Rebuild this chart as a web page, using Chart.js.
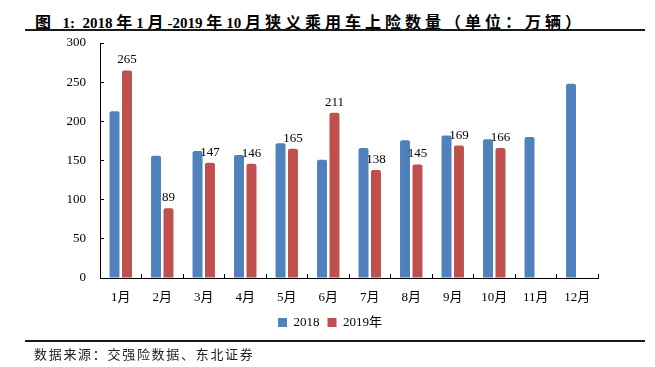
<!DOCTYPE html>
<html>
<head>
<meta charset="utf-8">
<script src="https://cdn.jsdelivr.net/npm/chart.js@4"></script>
<style>
  body { margin: 0; width: 655px; height: 367px; position: relative; background: #fff; overflow: hidden; }
  #title { position: absolute; left: 35px; top: 9px; font: bold 15px "Liberation Serif", "Noto Sans CJK SC"; color: #000; white-space: nowrap; }
  #title .c { font-size: 16px; letter-spacing: 4px; }
  .rule { position: absolute; left: 25px; width: 620px; height: 2px; background: #1a1a1a; }
  #src { position: absolute; left: 34px; top: 344px; font: 13px "Noto Sans CJK SC"; letter-spacing: 1.7px; color: #222; }
  canvas { position: absolute; left: 0; top: 0; }
</style>
</head>
<body>
<div id="title"><span class="c">图</span>&nbsp; 1:&nbsp; 2018 <span class="c">年</span>1 <span class="c">月</span>-2019 <span class="c">年</span>10 <span class="c">月狭义乘用车上险数量（单位：万辆）</span></div>
<div class="rule" style="top:29px"></div>
<canvas id="chart" width="655" height="367"></canvas>
<div class="rule" style="top:340px"></div>
<div id="src">数据来源：交强险数据、东北证券</div>
<script>
const months = ['1月', '2月', '3月', '4月', '5月', '6月', '7月', '8月', '9月', '10月', '11月', '12月'];
const seriesNames = ['2018', '2019年'];
const ins2018 = [213, 156, 162, 157, 172, 151, 166, 176, 182, 177, 180, 248];
const ins2019 = [265, 89, 147, 146, 165, 211, 138, 145, 169, 166, null, null];
const yMin = 0, yMax = 300, yStep = 50;

const serif = "'Liberation Serif', 'Noto Sans CJK SC', serif";

// value labels over the 2019 bars
const barLabels = {
  id: 'barLabels',
  afterDatasetsDraw(chart) {
    const ctx = chart.ctx;
    const meta = chart.getDatasetMeta(1);
    ctx.save();
    ctx.font = '13px ' + serif;
    ctx.fillStyle = '#000';
    ctx.textAlign = 'center';
    ctx.textBaseline = 'bottom';
    meta.data.forEach((bar, i) => {
      const v = ins2019[i];
      if (v == null) return;
      ctx.fillText(String(v), bar.x, bar.y - 4);
    });
    ctx.restore();
  }
};

new Chart(document.getElementById('chart').getContext('2d'), {
  type: 'bar',
  data: {
    labels: months,
    datasets: [
      {
        label: seriesNames[0],
        data: ins2018,
        backgroundColor: '#4F81BD',
        borderWidth: 0,
        borderRadius: { topLeft: 2, topRight: 2 },
        borderSkipped: 'start',
        categoryPercentage: 0.6,
        barPercentage: 0.8
      },
      {
        label: seriesNames[1],
        data: ins2019,
        backgroundColor: '#C0504D',
        borderWidth: 0,
        borderRadius: { topLeft: 2, topRight: 2 },
        borderSkipped: 'start',
        categoryPercentage: 0.6,
        barPercentage: 0.8
      }
    ]
  },
  options: {
    responsive: false,
    animation: false,
    layout: { padding: { left: 62, right: 57, top: 43, bottom: 28 } },
    plugins: {
      legend: {
        position: 'bottom',
        labels: {
          boxWidth: 9,
          boxHeight: 9,
          padding: 8,
          color: '#000',
          font: { size: 13, family: serif }
        }
      },
      tooltip: { enabled: false }
    },
    scales: {
      y: {
        min: yMin,
        max: yMax,
        afterFit: s => { s.width = 38; },
        border: { color: '#000', width: 1 },
        // tick marks pointing into the plot
        grid: { drawOnChartArea: false, tickLength: -4, color: '#000' },
        ticks: {
          stepSize: yStep,
          padding: 18,
          color: '#000',
          font: { size: 13, family: serif }
        }
      },
      x: {
        afterFit: s => { s.height = 30; },
        border: { color: '#000', width: 1 },
        grid: { offset: true, drawOnChartArea: false, tickLength: -4, color: '#000' },
        ticks: {
          padding: 16,
          color: '#000',
          maxRotation: 0,
          font: { size: 13, family: serif }
        }
      }
    }
  },
  plugins: [barLabels]
});
</script>
</body>
</html>
